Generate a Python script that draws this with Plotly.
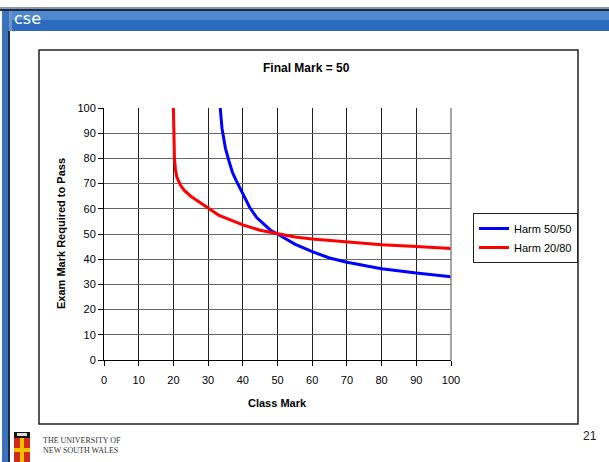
import plotly.graph_objects as go

# ---- data ----
class_blue = [33.5, 34, 34.5, 35, 36, 37, 38, 40, 42, 44, 46, 48, 50, 55, 60, 65, 70, 80, 90, 100]
exam_blue = [100, 92, 88, 84, 79, 74.5, 71.5, 66, 60.5, 56.5, 54, 51.5, 50, 46, 43, 40.5, 38.8, 36.2, 34.5, 33]

class_red = [20, 20.1, 20.3, 20.6, 21, 22, 23, 25, 28, 30, 33, 35, 38, 40, 45, 50, 55, 60, 70, 80, 90, 100]
exam_red = [100, 90, 80, 75.5, 72.5, 69.5, 67.5, 65, 62, 60.3, 57.5, 56.3, 54.5, 53.6, 51.5, 50, 48.8, 48, 46.8, 45.7, 45, 44.2]

series_names = ["Harm 50/50", "Harm 20/80"]
x_ticks = [0, 10, 20, 30, 40, 50, 60, 70, 80, 90, 100]
y_ticks = [0, 10, 20, 30, 40, 50, 60, 70, 80, 90, 100]

W, H = 609, 462
L, R, T, B = 104, 451, 108, 360  # plot area in pixels


def px(x):
    return (x - L) / (R - L)


def py(y):
    return (B - y) / (B - T)


FONT = "Arial, Liberation Sans, sans-serif"

fig = go.Figure()
fig.add_trace(go.Scatter(x=class_blue, y=exam_blue, mode="lines", name=series_names[0],
                         line=dict(color="#0000FF", width=3)))
fig.add_trace(go.Scatter(x=class_red, y=exam_red, mode="lines", name=series_names[1],
                         line=dict(color="#FF0000", width=3)))

shapes = []


def rect(x0, y0, x1, y1, fill, line_color=None, lw=0, layer="below"):
    shapes.append(dict(type="rect", xref="paper", yref="paper",
                       x0=px(x0), x1=px(x1), y0=py(y0), y1=py(y1),
                       fillcolor=fill, line=dict(color=line_color or fill, width=lw), layer=layer))


# header bar
rect(0, 7, W, 9, "#8a97a8")
rect(0, 9, W, 11, "#1b2b44")
rect(3, 11, W, 20, "#4f8ad0")
rect(3, 20, W, 31, "#2c6bbd")
rect(3, 11, 12, 31, "#6f93c7")
# left vertical strip
rect(2, 11, 9, H, "#3a72bb")
rect(8, 31, 10, H, "#1b2b44")
# chart border box
shapes.append(dict(type="rect", xref="paper", yref="paper",
                   x0=px(39), x1=px(578), y0=py(50), y1=py(424),
                   fillcolor="rgba(0,0,0,0)", line=dict(color="#222", width=1.5), layer="below"))
# plot area right border
shapes.append(dict(type="line", xref="paper", yref="paper", x0=1, x1=1, y0=0, y1=1,
                   line=dict(color="#888", width=1.5)))
# logo
rect(14, 432, 30, 438, "#111")
rect(14, 438, 30, 462, "#d42a1e")
rect(20, 438, 24, 462, "#f2c200")
rect(14, 448, 30, 452, "#f2c200")
rect(17, 433, 27, 436, "#ddd")


def ann(text, x, y, size, family=FONT, color="black", xanchor="center", **kw):
    return dict(text=text, x=px(x), y=py(y), xref="paper", yref="paper",
                xanchor=xanchor, yanchor="middle", showarrow=False,
                font=dict(family=family, size=size, color=color), **kw)


annotations = [
    ann("<b>Final Mark = 50</b>", 306, 68, 12),
    ann("<b>Class Mark</b>", 277, 403, 11),
    ann("<b>Exam Mark Required to Pass</b>", 61, 234, 11, textangle=-90),
    ann("cse", 12, 19, 16, family="DejaVu Sans, sans-serif", color="white", xanchor="left"),
    ann("THE UNIVERSITY OF<br>NEW SOUTH WALES", 41, 445, 8, family="Liberation Serif, serif",
        color="#333", xanchor="left", align="left"),
    ann("21", 590, 436, 12, color="#222"),
]

axis_common = dict(showline=True, linecolor="black", linewidth=1, ticks="outside", ticklen=5,
                   tickcolor="black", tickfont=dict(family=FONT, size=11, color="black"),
                   zeroline=False, mirror=False, fixedrange=True)

fig.update_layout(
    width=W, height=H,
    margin=dict(l=L, r=W - R, t=T, b=H - B, pad=0),
    paper_bgcolor="white", plot_bgcolor="white",
    showlegend=True,
    legend=dict(x=px(473), y=py(238), xanchor="left", yanchor="middle",
                bordercolor="#222", borderwidth=1, bgcolor="white",
                font=dict(family=FONT, size=11, color="black"),
                itemwidth=30, tracegroupgap=0),
    xaxis=dict(range=[0, 100], tickvals=x_ticks, ticktext=[str(v) for v in x_ticks],
               showgrid=True, gridcolor="#222", gridwidth=1, ticklabelstandoff=5, **axis_common),
    yaxis=dict(range=[0, 100], tickvals=y_ticks, ticktext=[str(v) for v in y_ticks],
               showgrid=True, gridcolor="#666", gridwidth=1.2, **axis_common),
    shapes=shapes,
    annotations=annotations,
)

fig.write_html("out.html", config={"displayModeBar": False})

# remove the default page margin so the figure sits at the window origin
with open("out.html", "r", encoding="utf-8") as f:
    html = f.read()
html = html.replace("<head>", "<head><style>html,body{margin:0;padding:0;overflow:hidden}</style>", 1)
with open("out.html", "w", encoding="utf-8") as f:
    f.write(html)
